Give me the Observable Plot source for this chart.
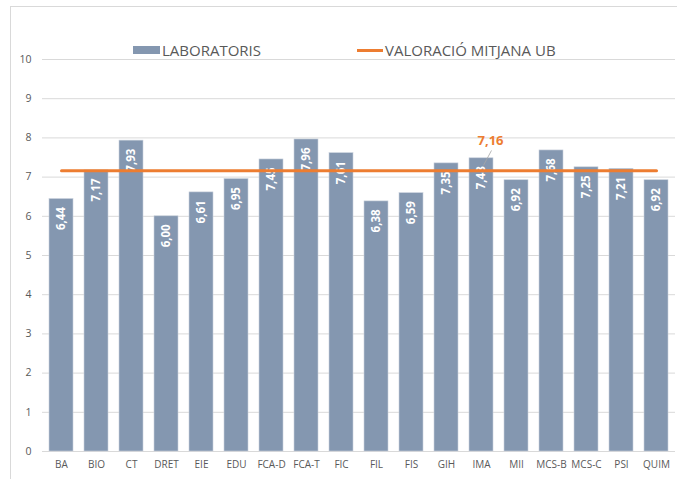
<!DOCTYPE html>
<html>
<head>
<meta charset="utf-8">
<script src="https://cdn.jsdelivr.net/npm/d3@7"></script>
<script src="https://cdn.jsdelivr.net/npm/@observablehq/plot@0.6"></script>
<style>
  html, body { margin: 0; padding: 0; background: #fff; }
  #wrap { position: relative; width: 677px; height: 479px; overflow: hidden; font-family: "Open Sans", sans-serif; }
  #frame { position: absolute; left: 10px; top: 6px; width: 700px; height: 500px; border-left: 1px solid #d9d9d9; border-top: 1px solid #d9d9d9; box-sizing: border-box; }
  #legend { position: absolute; top: 38px; left: 0; width: 677px; height: 24px; color: #595959; font-size: 15px; }
  .item { position: absolute; top: 0; display: flex; align-items: center; height: 24px; white-space: nowrap; }
  .sw { display: inline-block; margin-right: 2px; }
</style>
</head>
<body>
<div id="wrap">
  <div id="frame"></div>
  <div id="chart"></div>
  <div id="legend">
    <div class="item" style="left:133px"><span class="sw" style="width:27px;height:8px;background:#8497B0"></span><span>LABORATORIS</span></div>
    <div class="item" style="left:357px"><span class="sw" style="width:26px;height:3px;background:#ED7D31"></span><span>VALORACIÓ MITJANA UB</span></div>
  </div>
</div>
<script>
const categories = ["BA","BIO","CT","DRET","EIE","EDU","FCA-D","FCA-T","FIC","FIL","FIS","GIH","IMA","MII","MCS-B","MCS-C","PSI","QUIM"];
const laboratoris = [6.44,7.17,7.93,6.00,6.61,6.95,7.45,7.96,7.61,6.38,6.59,7.35,7.48,6.92,7.68,7.25,7.21,6.92];
const mitjanaUB = 7.16;
const mitjanaLabelAt = "IMA";
const yTicks = [0,1,2,3,4,5,6,7,8,9,10];

const fmt = d => d.toFixed(2).replace(".", ",");
const bars = categories.map((c, i) => ({cat: c, value: laboratoris[i]}));
const avgLine = categories.map(c => ({cat: c, value: mitjanaUB}));

const plot = Plot.plot({
  width: 677,
  height: 479,
  marginLeft: 42,
  marginRight: 2,
  marginTop: 59,
  marginBottom: 28,
  style: {fontFamily: "Open Sans, sans-serif", background: "transparent", color: "#595959"},
  x: {domain: categories, paddingInner: 0.32, paddingOuter: 0.16, label: null, tickSize: 0, tickPadding: 9},
  y: {domain: [0, 10], ticks: yTicks, label: null, tickSize: 0, tickPadding: 11},
  marks: [
    Plot.ruleY(yTicks, {stroke: "#d9d9d9", strokeWidth: 1}),
    Plot.axisY({ticks: yTicks, tickSize: 0, tickPadding: 11, label: null, fontSize: 10.5, fill: "#595959", tickFormat: d => String(d)}),
    Plot.axisX({tickSize: 0, tickPadding: 9, label: null, fontSize: 10, fill: "#595959"}),
    Plot.barY(bars, {x: "cat", y: "value", fill: "#8497B0", stroke: "#c9d1dc", strokeWidth: 0.6}),
    Plot.text(bars, {x: "cat", y: "value", text: d => fmt(d.value), rotate: -90, textAnchor: "end", lineAnchor: "middle", dy: 8, fill: "white", fontSize: 11.5, fontWeight: "bold"}),
    Plot.line(avgLine, {x: "cat", y: "value", stroke: "#ED7D31", strokeWidth: 3}),
    Plot.link([{cat: mitjanaLabelAt, value: mitjanaUB}], {
      x1: "cat", x2: "cat", y1: d => d.value + 0.14, y2: d => d.value + 0.52, stroke: "#a6a6a6", strokeWidth: 0.8,
      render(index, scales, values, dimensions, context, next) {
        const v = {...values, x1: Array.from(values.x1, x => x + 2), x2: Array.from(values.x2, x => x + 10)};
        return next(index, scales, v, dimensions, context);
      }
    }),
    Plot.text([{cat: mitjanaLabelAt, value: mitjanaUB}], {x: "cat", y: "value", text: d => fmt(d.value), dx: 9, dy: -30, fill: "#ED7D31", fontSize: 13, fontWeight: "bold"})
  ]
});
document.getElementById("chart").appendChild(plot);
</script>
</body>
</html>
